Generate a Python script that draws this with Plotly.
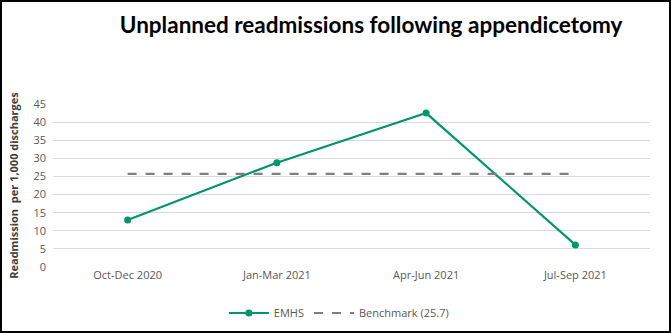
import plotly.graph_objects as go

categories = ["Oct-Dec 2020", "Jan-Mar 2021", "Apr-Jun 2021", "Jul-Sep 2021"]
emhs = [13.0, 28.8, 42.5, 6.1]
benchmark_value = 25.7
benchmark = [benchmark_value] * len(categories)
y_ticks = [0, 5, 10, 15, 20, 25, 30, 35, 40, 45]

fig = go.Figure()
fig.add_trace(go.Scatter(
    x=categories, y=emhs, name="EMHS", mode="lines+markers",
    line=dict(color="#00956B", width=2.2),
    marker=dict(color="#00956B", size=7),
))
fig.add_trace(go.Scatter(
    x=categories, y=benchmark, name=f"Benchmark ({benchmark_value})", mode="lines",
    line=dict(color="#7F7F7F", width=2.2, dash="dash"),
))

fig.update_layout(
    width=671, height=333,
    margin=dict(l=53, r=21, t=104, b=66),
    paper_bgcolor="white", plot_bgcolor="white",
    font=dict(family="Open Sans", size=11, color="#595959"),
    title=dict(
        text="<b>Unplanned readmissions following appendicetomy</b>",
        font=dict(family="Lato", size=22.5, color="black"),
        x=0.553, xanchor="center", y=0.925, yanchor="middle",
    ),
    showlegend=True,
    legend=dict(
        orientation="h", xref="container", x=0.505, xanchor="center",
        yref="container", y=0.06, yanchor="middle",
        font=dict(family="Open Sans", size=11, color="#595959"),
        itemwidth=40,
    ),
    shapes=[dict(
        type="rect", xref="paper", yref="paper",
        x0=-52/597, x1=1 + 20/597, y0=-65/163, y1=1 + 103/163,
        line=dict(color="black", width=2),
    )],
)
fig.update_xaxes(
    type="category", range=[-0.5, 3.5],
    showgrid=False, showline=False, ticks="",
    tickfont=dict(family="Open Sans", size=11, color="#595959"),
)
fig.update_yaxes(
    range=[0, 45], tickvals=y_ticks,
    showgrid=True, gridcolor="#D9D9D9", gridwidth=1,
    zeroline=False, showline=False, ticks="",
    ticklabelstandoff=6,
    tickfont=dict(family="Open Sans", size=11, color="#595959"),
    title=dict(
        text="<b>Readmission  per 1,000 discharges</b>",
        font=dict(family="Open Sans", size=11, color="#404040"),
        standoff=12,
    ),
)

fig.write_html("out.html")
